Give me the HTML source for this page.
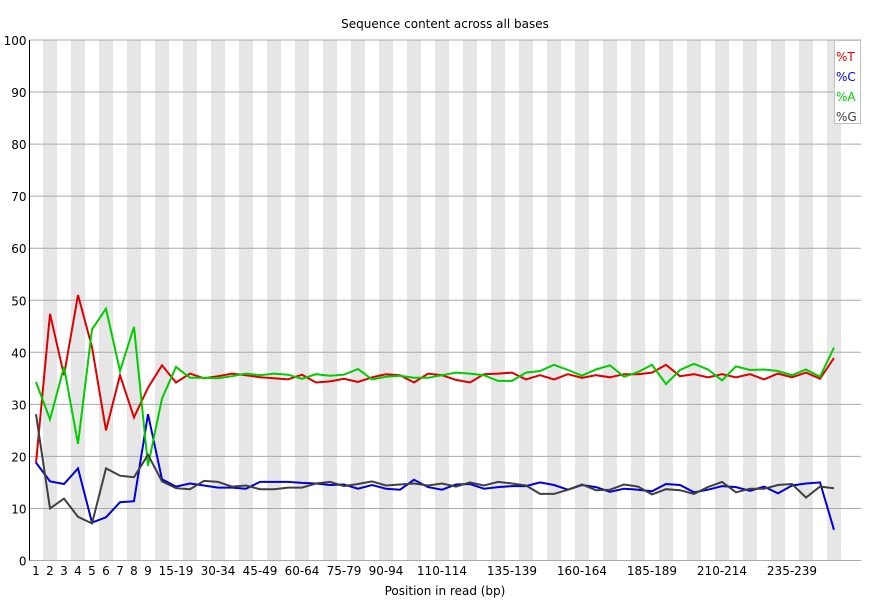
<!DOCTYPE html>
<html><head><meta charset="utf-8"><style>
body{margin:0;background:#fff;}
svg{display:block;font-family:"DejaVu Sans","Liberation Sans",sans-serif;}
</style></head><body>
<svg id="chart" width="870" height="600" xmlns="http://www.w3.org/2000/svg">
<rect width="870" height="600" fill="#fff"/>
<text x="445" y="28" font-size="12" text-anchor="middle" fill="#000">Sequence content across all bases</text>
<g id="bands"></g><g id="grid"></g><g id="axes"></g><g id="series"></g>
<text x="445" y="595" font-size="12" text-anchor="middle">Position in read (bp)</text>
<g>
<rect x="834.5" y="40.5" width="26" height="83" fill="#fff" stroke="#c0c0c0"/>
<text x="836" y="61" font-size="12" fill="#dd0000">%T</text>
<text x="836" y="81" font-size="12" fill="#0000dd">%C</text>
<text x="836" y="101" font-size="12" fill="#00cc00">%A</text>
<text x="836" y="121" font-size="12" fill="#404040">%G</text>
</g>
</svg>
<script>
const categories = ["1","2","3","4","5","6","7","8","9","10-14","15-19","20-24","25-29","30-34","35-39","40-44","45-49","50-54","55-59","60-64","65-69","70-74","75-79","80-84","85-89","90-94","95-99","100-104","105-109","110-114","115-119","120-124","125-129","130-134","135-139","140-144","145-149","150-154","155-159","160-164","165-169","170-174","175-179","180-184","185-189","190-194","195-199","200-204","205-209","210-214","215-219","220-224","225-229","230-234","235-239","240-244","245-249","250-251"];
const xTickLabels = ["1","2","3","4","5","6","7","8","9","15-19","30-34","45-49","60-64","75-79","90-94","110-114","135-139","160-164","185-189","210-214","235-239"];
const yTicks = [0,10,20,30,40,50,60,70,80,90,100];
const seriesT = [18.7,47.4,35.6,51.0,41.0,25.0,35.6,27.5,33.2,37.5,34.2,35.9,35.0,35.4,35.9,35.6,35.2,35.0,34.8,35.7,34.2,34.4,34.9,34.3,35.2,35.8,35.6,34.2,35.9,35.6,34.7,34.2,35.8,35.9,36.1,34.8,35.6,34.8,35.8,35.1,35.6,35.2,35.8,35.8,36.1,37.6,35.4,35.8,35.2,35.8,35.2,35.8,34.8,35.9,35.2,36.1,34.9,38.9];
const seriesC = [18.8,15.2,14.7,17.7,7.3,8.3,11.2,11.4,28.1,15.6,14.2,14.8,14.4,14.0,14.0,13.8,15.1,15.1,15.1,14.9,14.8,14.5,14.6,13.8,14.5,13.8,13.6,15.5,14.1,13.6,14.6,14.7,13.8,14.1,14.3,14.3,15.0,14.5,13.6,14.5,14.1,13.2,13.8,13.6,13.3,14.7,14.5,13.1,13.6,14.3,14.1,13.4,14.2,12.9,14.4,14.8,15.0,5.9];
const seriesA = [34.3,27.1,37.2,22.4,44.4,48.4,36.4,44.9,18.2,31.1,37.2,35.1,35.1,35.0,35.4,35.9,35.6,35.9,35.7,34.9,35.8,35.5,35.7,36.8,34.8,35.3,35.5,35.1,35.1,35.6,36.1,35.9,35.6,34.5,34.5,36.1,36.4,37.6,36.6,35.5,36.7,37.5,35.3,36.2,37.6,33.9,36.6,37.8,36.7,34.6,37.3,36.6,36.7,36.4,35.6,36.7,35.3,40.9];
const seriesG = [28.1,10.0,11.9,8.4,7.1,17.7,16.3,16.0,20.3,15.2,13.9,13.7,15.3,15.1,14.2,14.4,13.7,13.7,14.0,14.0,14.8,15.1,14.3,14.7,15.2,14.4,14.6,14.8,14.4,14.8,14.2,15.0,14.4,15.1,14.8,14.4,12.8,12.8,13.6,14.6,13.5,13.6,14.6,14.2,12.7,13.7,13.5,12.8,14.1,15.1,13.1,13.8,13.8,14.5,14.7,12.1,14.2,13.9];

const NS="http://www.w3.org/2000/svg";
const L=29.5,R=861,T=40,B=560.5,BW=14;
const xPos=i=>L+6.5+BW*i;
const yPos=v=>B-(v/100)*(B-T);
function mk(tag,attrs,parent){const e=document.createElementNS(NS,tag);for(const k in attrs)e.setAttribute(k,attrs[k]);parent.appendChild(e);return e;}
const bands=document.getElementById('bands'),grid=document.getElementById('grid'),axes=document.getElementById('axes'),ser=document.getElementById('series');
categories.forEach((c,i)=>{
  if(i%2===1){
    const r=mk('rect',{x:xPos(i)-7,y:T,width:BW,height:B-T,fill:'#e6e6e6'},bands);
    
    
  }
});
yTicks.forEach(v=>{
  if(v>0){
    const g=mk('line',{x1:L,x2:R,y1:yPos(v),y2:yPos(v),stroke:'#aaaaaa','stroke-width':1},grid);
    
    
  }
  const t=mk('text',{x:L-3,y:yPos(v)+5,'font-size':12,'text-anchor':'end'},axes);
  t.textContent=v;
  
  
});
const bl=mk('line',{x1:L,x2:R,y1:B,y2:B,stroke:'#aaaaaa'},axes);


const al=mk('line',{x1:L,x2:L,y1:T,y2:B,stroke:'#000'},axes);


xTickLabels.forEach(lab=>{
  const i=categories.indexOf(lab);
  const t=mk('text',{x:xPos(i),y:575,'font-size':12,'text-anchor':'middle'},axes);
  t.textContent=lab;
  
  
});
[[seriesT,'#dd0000','line-t'],[seriesC,'#0000dd','line-c'],[seriesA,'#00cc00','line-a'],[seriesG,'#404040','line-g']].forEach(([d,col,nm])=>{
  const pts=d.map((v,i)=>xPos(i).toFixed(1)+','+yPos(v).toFixed(1)).join(' ');
  const p=mk('polyline',{points:pts,fill:'none',stroke:col,'stroke-width':2,'stroke-linejoin':'miter'},ser);
  
  
});
</script>
</body></html>
